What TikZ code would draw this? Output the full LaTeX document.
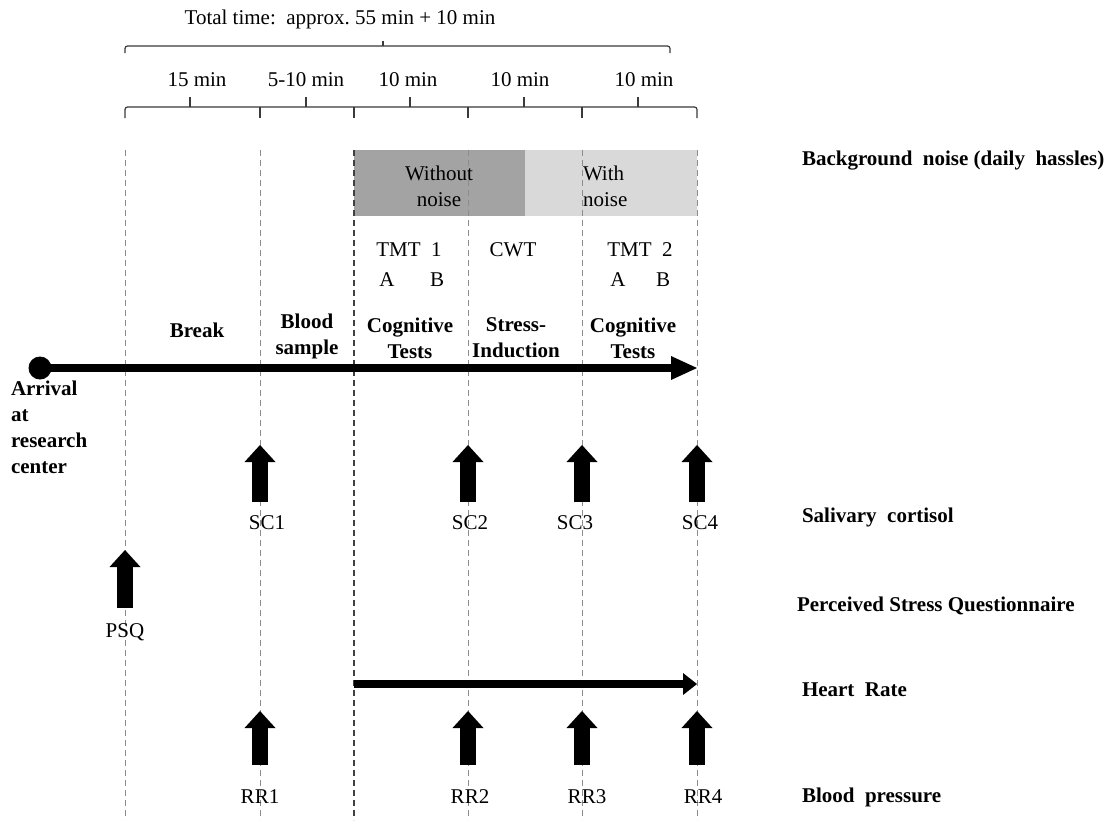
\documentclass[tikz,border=0pt]{standalone}
\usepackage{fontspec}
\setmainfont{Liberation Serif}
\usetikzlibrary{arrows.meta}
\definecolor{darkbox}{HTML}{A3A3A3}
\definecolor{lightbox}{HTML}{D9D9D9}
\definecolor{linegray}{HTML}{8C8C8C}
\definecolor{brk}{HTML}{3A3A3A}
\begin{document}
\begin{tikzpicture}[x=1pt,y=-1pt,
  every node/.style={font=\fontsize{21}{26}\selectfont, inner sep=0pt, outer sep=0pt},
  bold/.style={font=\fontsize{21}{26}\selectfont\bfseries},
  vline/.style={draw=linegray, line width=0.9pt, dash pattern=on 6pt off 4pt},
  vlinedark/.style={draw=black!75, line width=1.1pt, dash pattern=on 6pt off 4pt},
  bracketline/.style={draw=brk, line width=1.2pt},
  bigarrow/.style={line width=7.5pt, -{Triangle[length=26pt,width=24pt,line width=0pt]}},
  hrarrow/.style={line width=8pt, -{Triangle[length=14pt,width=22pt,line width=0pt]}},
  blk/.style={line width=16pt, -{Triangle[length=17pt,width=31pt,line width=0pt]}}
]
\useasboundingbox (0,0) rectangle (1111,820);
\fill[white] (0,0) rectangle (1111,820);

% background noise boxes
\fill[darkbox] (354,150) rectangle (525,216);
\fill[lightbox] (525,150) rectangle (697,216);

% vertical dashed lines
\foreach \x in {125,260,468,582,697} {
  \draw[vline] (\x,150) -- (\x,820);
}
\draw[vlinedark] (354,150) -- (354,820);

% top brace
\node (total) at (340,19) {Total time:\ \ approx.\ 55 min + 10 min};
\draw[bracketline, rounded corners=2.5pt] (125,53) -- (125,46) -- (670,46) -- (670,53);
\draw[bracketline] (383,46) -- (383,41);

% second bracket
\draw[bracketline, rounded corners=2.5pt] (125,118) -- (125,107) -- (697,107) -- (697,118);
\foreach \x in {260,354,468,582} { \draw[bracketline] (\x,107) -- (\x,118); }
\foreach \x in {190,306,410,524,638} { \draw[bracketline] (\x,107) -- (\x,97); }
\node (d1) at (197,80) {15 min};
\node (d2) at (306,80) {5-10 min};
\node (d3) at (408,80) {10 min};
\node (d4) at (520,80) {10 min};
\node (d5) at (644,80) {10 min};

% noise labels
\node[align=center] (wo) at (439,186) {Without\\noise};
\node[align=left, anchor=west] (wi) at (583,186) {With\\noise};

% test labels
\node (tmt1) at (409,250) {TMT\ \ 1};
\node (a1) at (387,280) {A};
\node (b1) at (437,280) {B};
\node (cwt) at (513,250) {CWT};
\node (tmt2) at (640,250) {TMT\ \ 2};
\node (a2) at (618,280) {A};
\node (b2) at (663,280) {B};

% phase labels
\node[bold] (brk) at (197,330) {Break};
\node[bold, align=center] (blood) at (307,336) {Blood\\sample};
\node[bold, align=center] (cog1) at (410,338) {Cognitive\\Tests};
\node[bold, align=center] (stress) at (516,338) {Stress-\\Induction};
\node[bold, align=center] (cog2) at (633,338) {Cognitive\\Tests};

% main timeline
\node[circle, fill=black, minimum size=23pt] (start) at (40,368) {};
\coordinate (tend) at (697,368);
\draw[bigarrow] (start.center) -- (tend);
\node[bold, align=left, anchor=north west] (arr) at (11,381) {Arrival\\at\\research\\center};

% salivary cortisol
\foreach \n/\x/\lx in {1/260/267,2/468/470,3/582/575,4/697/700} {
  \coordinate (scb\n) at (\x,502);
  \coordinate (sct\n) at (\x,445);
  \draw[blk] (scb\n) -- (sct\n);
  \node (sc\n) at (\lx,523) {SC\n};
}

% PSQ
\coordinate (psqb) at (125,608);
\coordinate (psqt) at (125,550);
\draw[blk] (psqb) -- (psqt);
\node (psq) at (125,632) {PSQ};

% heart rate
\coordinate (hrs) at (354,684);
\coordinate (hre) at (697,684);
\draw[hrarrow] (hrs) -- (hre);

% blood pressure
\foreach \n/\x/\lx in {1/260/260,2/468/470,3/582/587,4/697/703} {
  \coordinate (rrb\n) at (\x,765);
  \coordinate (rrt\n) at (\x,711);
  \draw[blk] (rrb\n) -- (rrt\n);
  \node (rr\n) at (\lx,797) {RR\n};
}

% right-hand labels
\node[bold, anchor=west] (lbg) at (802,161) {Background\ \ noise (daily\ \ hassles)};
\node[bold, anchor=west] (lsc) at (802,517) {Salivary\ \ cortisol};
\node[bold, anchor=west] (lpsq) at (797,606) {Perceived Stress Questionnaire};
\node[bold, anchor=west] (lhr) at (802,690) {Heart\ \ Rate};
\node[bold, anchor=west] (lbp) at (802,797) {Blood\ \ pressure};
\end{tikzpicture}
\end{document}
